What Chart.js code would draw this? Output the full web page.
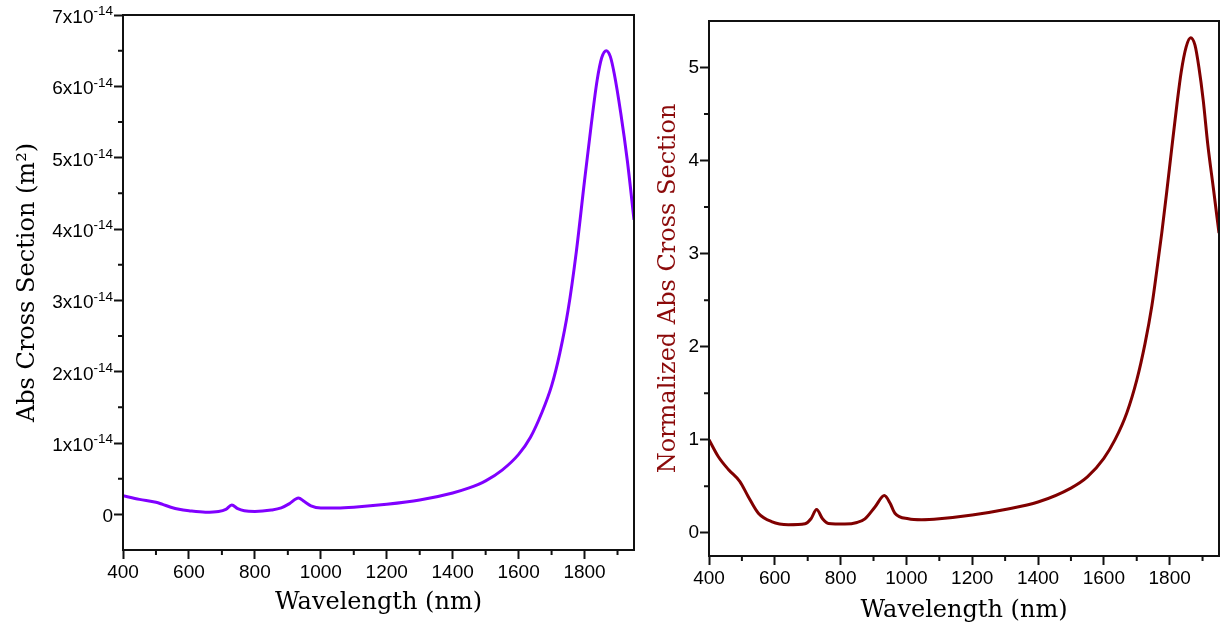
<!DOCTYPE html>
<html>
<head>
<meta charset="utf-8">
<script src="https://cdn.jsdelivr.net/npm/chart.js@4.4.1/dist/chart.umd.min.js"></script>
<style>
  html, body { margin: 0; padding: 0; background: #fff; overflow: hidden; width: 1220px; height: 632px; }
  #wrapL { position: absolute; left: 0; top: 0; width: 645px; height: 632px; }
  #wrapR { position: absolute; left: 640px; top: 0; width: 584px; height: 632px; }
</style>
</head>
<body>
<div id="wrapL"><canvas id="left"></canvas></div>
<div id="wrapR"><canvas id="right"></canvas></div>
<script>
// ---- data: left panel (absolute cross section, units of 1e-14 m^2) ----
const leftWavelength = [400,450,500,520,545,570,600,650,690,712,730,748,768,800,850,880,905,932,950,970,1000,1050,1100,1200,1300,1400,1450,1500,1550,1600,1636,1670,1700,1725,1750,1775,1800,1820,1838,1852,1866,1878,1890,1910,1930,1950];
const leftAbsE14 = [0.26,0.21,0.17,0.14,0.10,0.07,0.05,0.03,0.04,0.07,0.13,0.08,0.05,0.04,0.06,0.09,0.15,0.23,0.18,0.12,0.09,0.09,0.10,0.14,0.20,0.30,0.37,0.47,0.62,0.84,1.08,1.42,1.80,2.26,2.86,3.68,4.68,5.45,6.08,6.40,6.50,6.42,6.18,5.62,4.95,4.13];

// ---- data: right panel (normalized cross section) ----
const rightWavelength = [400,428,459,494,519,550,590,641,692,710,727,745,763,813,850,874,905,933,950,965,1006,1046,1100,1200,1300,1400,1500,1550,1600,1634,1670,1700,1725,1746,1761,1776,1791,1806,1822,1835,1850,1864,1877,1889,1902,1916,1933,1950];
const rightNorm = [1.0,0.82,0.68,0.55,0.39,0.21,0.12,0.086,0.096,0.15,0.25,0.15,0.10,0.093,0.11,0.15,0.28,0.40,0.32,0.21,0.15,0.14,0.15,0.19,0.25,0.33,0.48,0.60,0.80,1.0,1.29,1.64,2.03,2.44,2.82,3.22,3.66,4.12,4.60,4.95,5.22,5.32,5.24,5.00,4.65,4.17,3.70,3.22];

// ---- ticks ----
const xTickValues = [400,600,800,1000,1200,1400,1600,1800];
const xTickLabels = ['400','600','800','1000','1200','1400','1600','1800'];
const xMinorTicks = [500,700,900,1100,1300,1500,1700,1900];
const leftYTickValuesE14 = [0,1,2,3,4,5,6,7];
const leftYTickLabels = ['0','1x10','2x10','3x10','4x10','5x10','6x10','7x10'];
const leftYTickExponents = ['','-14','-14','-14','-14','-14','-14','-14'];
const leftYMinorE14 = [0.5,1.5,2.5,3.5,4.5,5.5,6.5];
const rightYTickValues = [0,1,2,3,4,5];
const rightYTickLabels = ['0','1','2','3','4','5'];
const rightYMinor = [0.5,1.5,2.5,3.5,4.5];

const xTitle = 'Wavelength (nm)';
const leftYTitle = 'Abs Cross Section (m\u00B2)';
const rightYTitle = 'Normalized Abs Cross Section';

const sansFamily = 'Liberation Sans, Arial, sans-serif';
const tickFont = { family: sansFamily, size: 19 };
const serif = 'DejaVu Serif, serif';

const framePlugin = {
  id: 'frame',
  afterDatasetsDraw(chart) {
    const { ctx, chartArea: a } = chart;
    ctx.save();
    ctx.strokeStyle = '#111';
    ctx.lineWidth = 2;
    ctx.strokeRect(a.left, a.top, a.right - a.left, a.bottom - a.top);
    const m = chart.options.plugins.minorTicks;
    if (m) {
      ctx.beginPath();
      m.x.forEach(v => {
        const px = chart.scales.x.getPixelForValue(v);
        ctx.moveTo(px, a.bottom); ctx.lineTo(px, a.bottom + m.len);
      });
      m.y.forEach(v => {
        const py = chart.scales.y.getPixelForValue(v);
        ctx.moveTo(a.left - m.len, py); ctx.lineTo(a.left, py);
      });
      ctx.stroke();
    }
    const s = chart.options.plugins.sciLabels;
    if (s) {
      ctx.fillStyle = '#000';
      ctx.textBaseline = 'alphabetic';
      const xr = a.left - 10;
      s.values.forEach((v, i) => {
        const py = chart.scales.y.getPixelForValue(v);
        const base = s.labels[i], exp = s.exponents[i];
        ctx.font = '13.5px ' + sansFamily;
        const ew = exp ? ctx.measureText(exp).width : 0;
        if (exp) { ctx.textAlign = 'left'; ctx.fillText(exp, xr - ew, py + 8 - 7.7); }
        ctx.font = '19px ' + sansFamily;
        ctx.textAlign = 'right';
        ctx.fillText(base, xr - ew, py + 8);
      });
    }
    ctx.restore();
  }
};

function makeChart(id, cfg) {
  return new Chart(document.getElementById(id), {
    type: 'line',
    data: { datasets: [{
      data: cfg.xs.map((x, i) => ({ x: x, y: cfg.ys[i] })),
      borderColor: cfg.color, borderWidth: 3, pointRadius: 0,
      cubicInterpolationMode: 'monotone', fill: false
    }]},
    options: {
      responsive: true, maintainAspectRatio: false, animation: false,
      layout: { padding: cfg.padding },
      plugins: { legend: { display: false }, tooltip: { enabled: false },
        minorTicks: cfg.minor, sciLabels: cfg.sciLabels },
      scales: {
        x: {
          type: 'linear', min: 400, max: 1950,
          afterBuildTicks: s => { s.ticks = xTickValues.map(v => ({ value: v })); },
          afterFit: s => { s.height = cfg.xHeight; },
          ticks: { font: tickFont, color: '#000', padding: 2, maxRotation: 0, autoSkip: false,
                   callback: (v, i) => xTickLabels[i] },
          grid: { drawOnChartArea: false, drawTicks: true, tickLength: 9, tickWidth: 2, tickColor: '#111' },
          border: { display: false },
          title: { display: true, text: xTitle, color: '#000',
                   font: { family: serif, size: 24 }, padding: { top: 0, bottom: cfg.xTitlePad } }
        },
        y: {
          type: 'linear', min: cfg.yMin, max: cfg.yMax,
          afterBuildTicks: s => { s.ticks = cfg.yTicks.map(v => ({ value: v })); },
          afterFit: s => { s.width = cfg.yWidth; },
          ticks: { display: cfg.showYTicks, font: tickFont, color: '#000', padding: 1, autoSkip: false,
                   callback: (v, i) => cfg.yLabels[i] },
          grid: { drawOnChartArea: false, drawTicks: true, tickLength: 9, tickWidth: 2, tickColor: '#111' },
          border: { display: false },
          title: cfg.yTitle
        }
      }
    },
    plugins: [framePlugin]
  });
}

makeChart('left', {
  xs: leftWavelength, ys: leftAbsE14.map(v => v * 1e-14), color: '#8000ff',
  padding: { left: 0, top: 15, right: 11, bottom: 0 },
  xHeight: 82, yWidth: 123, xTitlePad: 15,
  yMin: -0.5e-14, yMax: 7e-14,
  yTicks: leftYTickValuesE14.map(v => v * 1e-14), yLabels: leftYTickLabels, showYTicks: false,
  sciLabels: { values: leftYTickValuesE14.map(v => v * 1e-14), labels: leftYTickLabels, exponents: leftYTickExponents },
  minor: { x: xMinorTicks, y: leftYMinorE14.map(v => v * 1e-14), len: 5 },
  yTitle: { display: true, text: leftYTitle, color: '#000',
            font: { family: serif, size: 24 }, padding: { top: 13, bottom: 0 } }
});

makeChart('right', {
  xs: rightWavelength, ys: rightNorm, color: '#800000',
  padding: { left: 0, top: 21, right: 5, bottom: 0 },
  xHeight: 76, yWidth: 69, xTitlePad: 7,
  yMin: -0.25, yMax: 5.5,
  yTicks: rightYTickValues, yLabels: rightYTickLabels, showYTicks: true,
  sciLabels: null,
  minor: { x: xMinorTicks, y: rightYMinor, len: 5 },
  yTitle: { display: true, text: rightYTitle, color: '#8b0a0a',
            font: { family: serif, size: 24 }, padding: { top: 14, bottom: 0 } }
});
</script>
</body>
</html>
